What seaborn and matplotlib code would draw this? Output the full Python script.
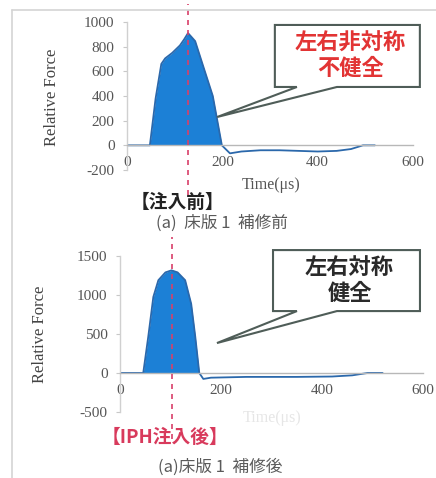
import matplotlib
matplotlib.use("Agg")
import matplotlib.pyplot as plt
from matplotlib.patches import Polygon
from matplotlib.lines import Line2D
import seaborn as sns
import numpy as np

# Impact-echo waveforms (relative force vs. time) before and after repair
t_before = [0, 40, 48, 60, 72, 80, 95, 111, 120, 128, 135, 143, 160, 180, 199, 216, 240, 280, 320, 360, 400, 440, 470, 495, 520]
f_before = [0, 0, 0, 380, 660, 705, 750, 810, 860, 910, 880, 845, 640, 400, 0, -65, -50, -40, -40, -45, -50, -45, -30, 0, 0]

t_after = [0, 40, 46, 56, 66, 76, 90, 102, 114, 129, 141, 149, 157, 165, 180, 250, 350, 420, 460, 490, 520]
f_after = [0, 0, 0, 468, 975, 1190, 1290, 1316, 1290, 1190, 886, 468, 0, -76, -60, -50, -50, -45, -30, 0, 0]

peak_before = 128
peak_after = 102

x_ticks = [0, 200, 400, 600]
y_ticks_before = [-200, 0, 200, 400, 600, 800, 1000]
y_ticks_after = [-500, 0, 500, 1000, 1500]

sns.set_theme(style="white")
plt.rcParams["font.family"] = ["Liberation Serif", "Noto Sans CJK JP", "DejaVu Sans"]
CJK = ["Noto Sans CJK JP", "DejaVu Sans"]

FILL = "#1c80d6"
LINE = "#2b68ab"
AXIS = "#b8b8b8"
TICKTXT = "#555555"
PEAK = "#d8406a"

fig = plt.figure(figsize=(4.36, 4.78), dpi=100)

# light frame of the panel
fig.add_artist(Line2D([12/436, 12/436], [0, 1 - 10/478], transform=fig.transFigure, color="#d4d4d4", lw=1.2))
fig.add_artist(Line2D([12/436, 1.0], [1 - 10/478, 1 - 10/478], transform=fig.transFigure, color="#d4d4d4", lw=1.2))

ax1 = fig.add_axes([127/436, 1 - 170/478, 286/436, 148/478])
ax2 = fig.add_axes([120/436, 1 - 412/478, 303/436, 156/478])


def style_axis(ax, yticks, t, f, peak):
    f = np.asarray(f, dtype=float)
    ax.fill_between(t, np.maximum(f, 0), 0, color=FILL, lw=0)
    sns.lineplot(x=t, y=f, ax=ax, color=LINE, lw=1.3)
    ax.set_xlim(0, 600)
    ax.set_ylim(yticks[0], yticks[-1])
    ax.set_xticks(x_ticks)
    ax.set_yticks(yticks)
    ax.set_xticklabels([str(v) for v in x_ticks])
    ax.set_yticklabels([str(v) for v in yticks])
    for s in ["top", "right"]:
        ax.spines[s].set_visible(False)
    ax.spines["bottom"].set_position(("data", 0))
    ax.spines["bottom"].set_color(AXIS)
    ax.spines["bottom"].set_linewidth(1.0)
    ax.spines["left"].set_color("#d0d0d0")
    ax.spines["left"].set_linewidth(1.0)
    ax.tick_params(axis="x", length=0, pad=8, labelsize=11, labelcolor=TICKTXT)
    ax.tick_params(axis="y", length=3, width=0.8, color="#c8c8c8", left=True, pad=6,
                   labelsize=11, labelcolor=TICKTXT)
    ax.set_ylabel("Relative Force", fontsize=12, color="#444444")
    ax.set_xlabel("")
    ax.plot([peak, peak], [-0.17, 1.12], transform=ax.get_xaxis_transform(),
            color=PEAK, lw=1.2, ls=(0, (3, 3)), clip_on=False, zorder=5)


def callout(ax, box, base, tip, text, color):
    x0, y0, x1, y1 = box
    verts = [(x0, y0), (base[0], y0), tip, (base[1], y0), (x1, y0), (x1, y1), (x0, y1)]
    ax.add_patch(Polygon(verts, closed=True, transform=ax.transAxes, clip_on=False,
                         fc="white", ec="#4f5d58", lw=1.5, zorder=6))
    ax.text((x0 + x1) / 2 + 0.01, (y0 + y1) / 2, text, transform=ax.transAxes, ha="center",
            va="center", fontsize=16, fontweight="bold", color=color, family=CJK,
            linespacing=1.15, zorder=7)


style_axis(ax1, y_ticks_before, t_before, f_before, peak_before)
style_axis(ax2, y_ticks_after, t_after, f_after, peak_after)
ax1.yaxis.set_label_coords(-0.234, 0.49)
ax2.yaxis.set_label_coords(-0.238, 0.5)

callout(ax1, (0.517, 0.561, 1.024, 0.98), (0.594, 0.734), (0.315, 0.358),
        "左右非対称\n不健全", "#e23434")
callout(ax2, (0.505, 0.647, 0.99, 1.038), (0.584, 0.716), (0.320, 0.442),
        "左右対称\n健全", "#2a2a2a")

fig.text(271/436, 1 - 185/478, "Time(μs)", ha="center", va="center", fontsize=11.5, color="#555555")
fig.text(177/436, 1 - 202/478, "【注入前】", ha="center", va="center", fontsize=13.5,
         fontweight="bold", color="#222222", family=CJK)
fig.text(222/436, 1 - 223/478, "(a)  床版 1  補修前", ha="center", va="center", fontsize=12,
         color="#5a5a5a", family=CJK)

fig.text(272/436, 1 - 418/478, "Time(μs)", ha="center", va="center", fontsize=11.5, color="#e6e6e6")
fig.text(165/436, 1 - 437/478, "【IPH注入後】", ha="center", va="center", fontsize=13.5,
         fontweight="bold", color="#d83a5c", family=CJK)
fig.text(220/436, 1 - 467/478, "(a)床版 1  補修後", ha="center", va="center", fontsize=12,
         color="#5a5a5a", family=CJK)

fig.savefig("out.png", dpi=100, facecolor="white")
